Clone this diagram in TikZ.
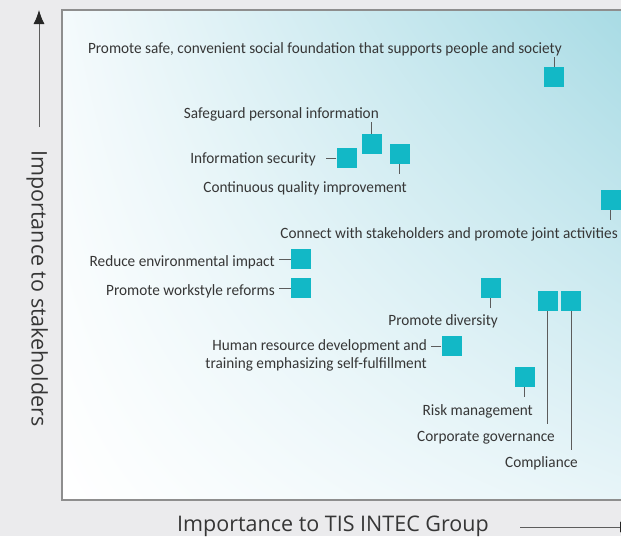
\documentclass[tikz,border=0pt]{standalone}
\usepackage{fontspec}
\setmainfont{Carlito}[FakeStretch=0.97]
\newfontfamily\axisfont{Open Sans}
\usetikzlibrary{arrows.meta,shadings}
\definecolor{panelgray}{HTML}{EBEBED}
\definecolor{framegray}{HTML}{8E8E8E}
\definecolor{labelgray}{HTML}{363636}
\definecolor{tickgray}{HTML}{5C5C5C}
\definecolor{tipgray}{HTML}{262626}
\definecolor{tealbox}{HTML}{12B8C6}
\definecolor{shadecyan}{HTML}{A3D9E3}
\definecolor{shadepale}{HTML}{F4FAFC}
\definecolor{shadelight}{HTML}{E6F4F8}

\begin{document}
\begin{tikzpicture}[x=1pt,y=-1pt,
  issuebox/.style={fill=tealbox,minimum size=20pt,inner sep=0pt},
  issuetext/.style={text=labelgray,inner sep=1.5pt,font=\fontsize{15.7}{18.5}\selectfont},
  tick/.style={draw=tickgray,line width=0.9pt},
  axislabel/.style={text=labelgray,font=\axisfont\fontsize{21.5}{24}\selectfont},
  axisarrow/.style={draw=tickgray,line width=0.9pt,-{Latex[length=14pt,width=11pt,color=tipgray]}}]
\useasboundingbox (0,0) rectangle (621,536);
\fill[panelgray] (0,0) rectangle (621,536);
% Matrix panel
\shade[upper left=shadepale,upper right=shadecyan,lower left=white,lower right=shadelight]
  (62,10) rectangle (660,500);
\draw[framegray,line width=1.2pt] (62,10) rectangle (660,500);

% Issue markers
\foreach \name/\x/\y in {foundation/554/77, privacy/371.5/144, infosec/346.5/158,
    quality/399.5/154, joint/610.7/200, environment/300.8/259, workstyle/300.8/288,
    diversity/490.7/288, governance/547.5/301, compliance/571/301, talent/451.5/346,
    risk/524.8/377} {
    \node[issuebox] (\name) at (\x,\y) {};
}

% Issue labels
\node[issuetext,anchor=base east] (foundationtext) at (563.5,53) {Promote safe, convenient social foundation that supports people and society};
\node[issuetext,anchor=base east] (privacytext) at (380.5,118) {Safeguard personal information};
\node[issuetext,anchor=base east] (infosectext) at (317.5,163) {Information security};
\node[issuetext,anchor=base east] (qualitytext) at (408.5,192) {Continuous quality improvement};
\node[issuetext,anchor=base east] (jointtext) at (619.5,238) {Connect with stakeholders and promote joint activities};
\node[issuetext,anchor=base east] (environmenttext) at (276.5,266) {Reduce environmental impact};
\node[issuetext,anchor=base east] (workstyletext) at (276.5,295) {Promote workstyle reforms};
\node[issuetext,anchor=base east] (diversitytext) at (499.5,325) {Promote diversity};
\node[issuetext,anchor=north east,align=right] (talenttext) at (428.5,337.5) {Human resource development and\\training emphasizing self-fulfillment};
\node[issuetext,anchor=base east] (risktext) at (534.5,415) {Risk management};
\node[issuetext,anchor=base east] (governancetext) at (556.5,441) {Corporate governance};
\node[issuetext,anchor=base east] (compliancetext) at (579.5,467) {Compliance};

% Leader ticks
\draw[tick] (foundation.north) -- (foundation.north |- foundationtext.south);
\draw[tick] (privacy.north) -- (privacy.north |- privacytext.south);
\draw[tick,shorten >=8pt] (infosec.west) -- (infosec.west -| infosectext.east);
\draw[tick,shorten >=5pt] (quality.south) -- (quality.south |- qualitytext.north);
\draw[tick,shorten >=5pt] (joint.south) -- (joint.south |- jointtext.north);
\draw[tick,shorten >=2pt] (environment.west) -- (environment.west -| environmenttext.east);
\draw[tick,shorten >=2pt] (workstyle.west) -- (workstyle.west -| workstyletext.east);
\draw[tick,shorten >=4pt] (diversity.south) -- (diversity.south |- diversitytext.north);
\draw[tick,shorten >=2.5pt] (talent.west) -- (talent.west -| talenttext.east);
\draw[tick,shorten >=5pt] (risk.south) -- (risk.south |- risktext.north);
\draw[tick,shorten >=5pt] (governance.south) -- (governance.south |- governancetext.north);
\draw[tick,shorten >=4pt] (compliance.south) -- (compliance.south |- compliancetext.north);

% Axes
\coordinate (ybase) at (39,127);
\coordinate (ytip) at (39,10);
\coordinate (xbase) at (520,527);
\coordinate (xtip) at (634,527);
\draw[axisarrow] (ybase) -- (ytip);
\draw[axisarrow] (xbase) -- (xtip);
\node[axislabel,anchor=base] (xlabel) at (333,531) {Importance to TIS INTEC Group};
\node[axislabel,anchor=base,rotate=-90] (ylabel) at (31.5,288.5) {Importance to stakeholders};
\end{tikzpicture}
\end{document}
